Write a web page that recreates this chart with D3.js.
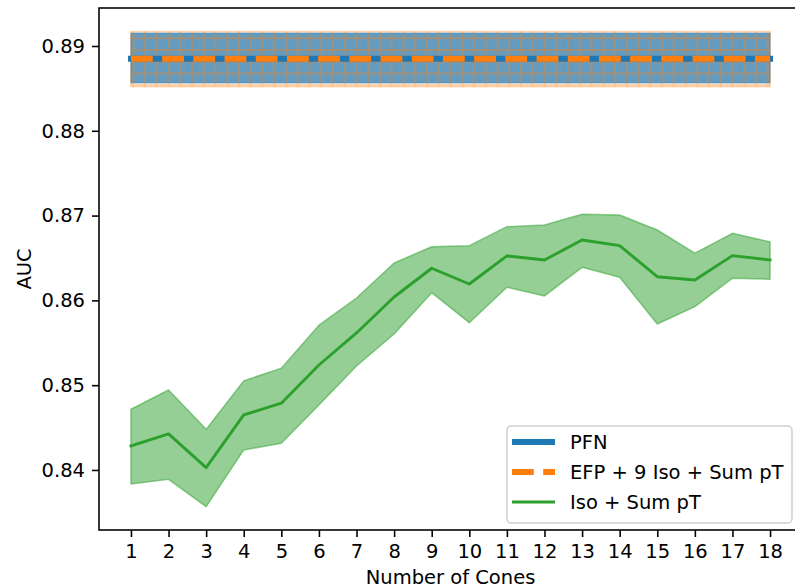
<!DOCTYPE html>
<html>
<head>
<meta charset="utf-8">
<script src="https://cdn.jsdelivr.net/npm/d3@7"></script>
<style>
  html, body { margin: 0; padding: 0; background: #fff; overflow: hidden; }
  svg { display: block; font-family: "DejaVu Sans", sans-serif; }
</style>
</head>
<body>
<svg id="chart" width="795" height="588"></svg>
<script>
// ---- data ----
const cones = [1, 2, 3, 4, 5, 6, 7, 8, 9, 10, 11, 12, 13, 14, 15, 16, 17, 18];
const isoMean = [0.84283, 0.84425, 0.84027, 0.84649, 0.84787, 0.85238, 0.85616, 0.86040, 0.86379,
                 0.86193, 0.86524, 0.86476, 0.86712, 0.86645, 0.86279, 0.86241, 0.86528, 0.86476];
const isoUpper = [0.84716, 0.84943, 0.84479, 0.85051, 0.85201, 0.85708, 0.86028, 0.86441, 0.86633,
                  0.86645, 0.86869, 0.86889, 0.87015, 0.87007, 0.86830, 0.86557, 0.86791, 0.86690];
const isoLower = [0.83835, 0.83890, 0.83567, 0.84236, 0.84315, 0.84767, 0.85226, 0.85604, 0.86091,
                  0.85737, 0.86154, 0.86052, 0.86390, 0.86272, 0.85722, 0.85926, 0.86261, 0.86249];
const pfnBand = [0.88567, 0.88849, 0.89150];   // lower, mean, upper
const efpBand = [0.88520, 0.88849, 0.89171];   // lower, mean, upper
const yTicks = [0.84, 0.85, 0.86, 0.87, 0.88, 0.89];
const seriesNames = ["PFN", "EFP + 9 Iso + Sum pT", "Iso + Sum pT"];
const xLabel = "Number of Cones";
const yLabel = "AUC";

// ---- layout ----
const C = { blue: "#1f77b4", orange: "#ff7f0e", green: "#2ca02c" };
const pL = 99, pR = 802, pT = 8, pB = 530;
const FS = 19.5;

const svg = d3.select("#chart");
const x = d3.scaleLinear().domain([0.15, 18.85]).range([pL, pR]);
const y = d3.scaleLinear().domain([0.83292, 0.89448]).range([pB, pT]);

// hatch pattern
const defs = svg.append("defs");
const hs = 11.75;
const pat = defs.append("pattern").attr("id", "hatch")
  .attr("patternUnits", "userSpaceOnUse").attr("width", hs).attr("height", hs)
  .attr("x", 4).attr("y", 3);
pat.append("path").attr("d", `M0,0H${hs}M0,0V${hs}M0,${hs}H${hs}M${hs},0V${hs}`)
  .attr("stroke", C.orange).attr("stroke-width", 1.8).attr("fill", "none");

const x0 = d3.min(cones), x1 = d3.max(cones);

// fills (zorder 1)
const bandArea = d3.area().x(d => x(d.x)).y0(d => y(d.lo)).y1(d => y(d.hi));
const pfnPts = [x0, x1].map(v => ({ x: v, lo: pfnBand[0], hi: pfnBand[2] }));
const efpPts = [x0, x1].map(v => ({ x: v, lo: efpBand[0], hi: efpBand[2] }));

svg.append("path").attr("d", bandArea(pfnPts))
  .attr("fill", C.blue).attr("fill-opacity", 0.72)
  .attr("stroke", C.blue).attr("stroke-opacity", 0.5).attr("stroke-width", 1.5);

svg.append("path").attr("d", bandArea(efpPts))
  .attr("fill", C.orange).attr("fill-opacity", 0.05)
  .attr("stroke", C.orange).attr("stroke-opacity", 0.3).attr("stroke-width", 1.5);
svg.append("path").attr("d", bandArea(efpPts))
  .attr("fill", "url(#hatch)").attr("opacity", 0.38);

const isoPts = cones.map((c, i) => ({ x: c, lo: isoLower[i], hi: isoUpper[i] }));
svg.append("path").attr("d", bandArea(isoPts))
  .attr("fill", C.green).attr("fill-opacity", 0.5)
  .attr("stroke", C.green).attr("stroke-opacity", 0.5).attr("stroke-width", 1.5)
  .attr("stroke-linejoin", "round");

// lines (zorder 2)
const line = d3.line().x(d => x(d.x)).y(d => y(d.y));
svg.append("path").attr("d", line([x0, x1].map(v => ({ x: v, y: pfnBand[1] }))))
  .attr("fill", "none").attr("stroke", C.blue).attr("stroke-width", 5.9)
  .attr("stroke-linecap", "square");
svg.append("path").attr("d", line([x0, x1].map(v => ({ x: v, y: efpBand[1] }))))
  .attr("fill", "none").attr("stroke", C.orange).attr("stroke-width", 5.9)
  .attr("stroke-dasharray", "21.8,9.4");
svg.append("path").attr("d", line(cones.map((c, i) => ({ x: c, y: isoMean[i] }))))
  .attr("fill", "none").attr("stroke", C.green).attr("stroke-width", 2.9)
  .attr("stroke-linejoin", "round").attr("stroke-linecap", "square");

// axes
const xAxis = d3.axisBottom(x).tickValues(cones).tickFormat(d3.format("d"))
  .tickSize(7).tickPadding(7);
const yAxis = d3.axisLeft(y).tickValues(yTicks).tickFormat(d3.format(".2f"))
  .tickSize(7).tickPadding(7);

const gx = svg.append("g").attr("transform", `translate(0,${pB})`).call(xAxis);
const gy = svg.append("g").attr("transform", `translate(${pL},0)`).call(yAxis);
[gx, gy].forEach(g => {
  g.select(".domain").remove();
  g.selectAll(".tick line").attr("stroke", "#000").attr("stroke-width", 1.57);
  g.selectAll(".tick text").attr("fill", "#000").style("font-size", FS + "px")
    .style("font-family", "'DejaVu Sans', sans-serif");
});

// spines
const sp = svg.append("g").attr("stroke", "#000").attr("stroke-width", 1.57).attr("fill", "none");
sp.append("rect").attr("x", pL).attr("y", pT).attr("width", pR - pL).attr("height", pB - pT);

// axis labels
svg.append("text").attr("x", (pL + pR) / 2).attr("y", 584)
  .attr("text-anchor", "middle").style("font-size", FS + "px").text(xLabel);
svg.append("text").attr("transform", `translate(31,${(pT + pB) / 2}) rotate(-90)`)
  .attr("text-anchor", "middle").style("font-size", FS + "px").text(yLabel);

// legend
const lg = svg.append("g");
lg.append("rect").attr("x", 507).attr("y", 426).attr("width", 285).attr("height", 97)
  .attr("rx", 4).attr("fill", "#fff").attr("fill-opacity", 0.8)
  .attr("stroke", "#d0d0d0").attr("stroke-width", 1.5);
const legY = [442, 472, 502];
const hx0 = 512, hx1 = 555;
lg.append("line").attr("x1", hx0).attr("x2", hx1).attr("y1", legY[0]).attr("y2", legY[0])
  .attr("stroke", C.blue).attr("stroke-width", 5.9);
lg.append("line").attr("x1", hx0).attr("x2", hx1).attr("y1", legY[1]).attr("y2", legY[1])
  .attr("stroke", C.orange).attr("stroke-width", 5.9).attr("stroke-dasharray", "21.8,9.4");
lg.append("line").attr("x1", hx0).attr("x2", hx1).attr("y1", legY[2]).attr("y2", legY[2])
  .attr("stroke", C.green).attr("stroke-width", 2.9);
seriesNames.forEach((n, i) => {
  lg.append("text").attr("x", 570).attr("y", legY[i] + 7)
    .style("font-size", FS + "px").attr("fill", "#000").text(n);
});
</script>
</body>
</html>
